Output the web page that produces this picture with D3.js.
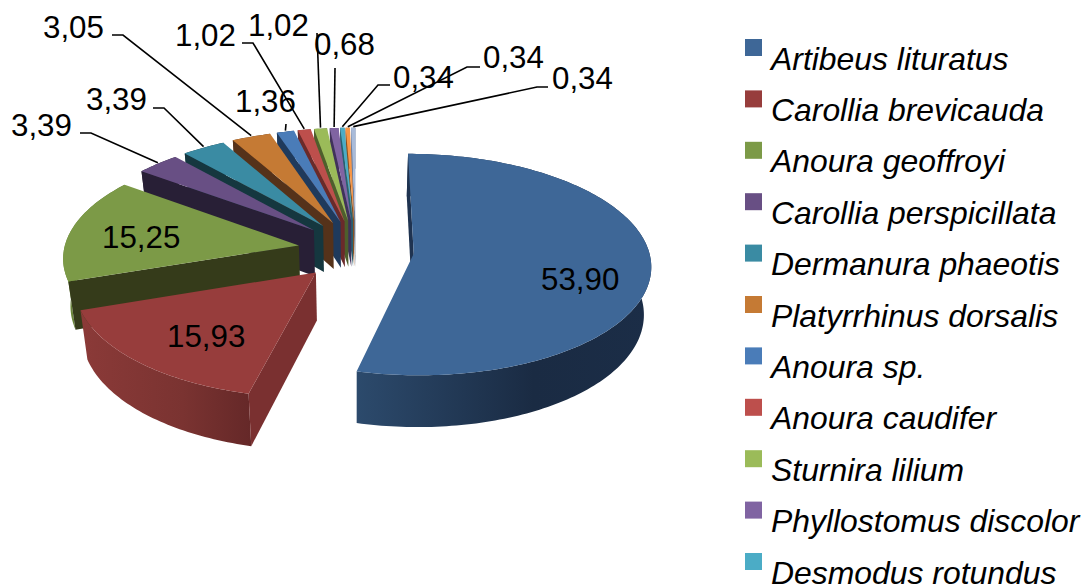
<!DOCTYPE html>
<html>
<head>
<meta charset="utf-8">
<title>Frugivorous and nectarivorous bat species</title>
<script src="https://cdn.jsdelivr.net/npm/d3@7"></script>
<style>
html, body { margin: 0; padding: 0; background: #fff; overflow: hidden; }
svg { display: block; }
text { font-family: "Liberation Sans", Arial, sans-serif; fill: #000; }
</style>
</head>
<body>
<svg id="chart" width="1088" height="588"></svg>
<script>
// Species share of captures, in pie order (clockwise from twelve o'clock)
const values = [53.90, 15.93, 15.25, 3.39, 3.39, 3.05, 1.36, 1.02, 1.02, 0.68, 0.34, 0.34, 0.34];
const valueLabels = ["53,90", "15,93", "15,25", "3,39", "3,39", "3,05", "1,36", "1,02", "1,02", "0,68", "0,34", "0,34", "0,34"];
const legendNames = [
  "Artibeus lituratus", "Carollia brevicauda", "Anoura geoffroyi", "Carollia perspicillata",
  "Dermanura phaeotis", "Platyrrhinus dorsalis", "Anoura sp.", "Anoura caudifer",
  "Sturnira lilium", "Phyllostomus discolor", "Desmodus rotundus"
];
const faceColors = ["#3e6797", "#973d3c", "#7c9a47", "#684f84", "#3a8ba3", "#c57a34", "#4a7cb8", "#bd4f4c", "#9bbb59", "#8064a2", "#4bacc6", "#f79646", "#a9bbd9"];
const sideColors = ["#1f3350", "#7a3030", "#353b1a", "#281f36", "#15373f", "#55321a", "#1f3a5c", "#6a2a2a", "#4e5f2c", "#40325a", "#286070", "#8a5020", "#6f7f9c"];
const rimStops = [
  ["#2c4a6c", "#1a2b43", "#1b2d47"], ["#8b3a38", "#7a3331", "#652828"], ["#6d8a3b", "#5f7a33", "#4e6329"],
  ["#281f36", "#281f36", "#281f36"], ["#15373f", "#15373f", "#15373f"], ["#55321a", "#55321a", "#55321a"],
  ["#1f3a5c", "#1f3a5c", "#1f3a5c"], ["#6a2a2a", "#6a2a2a", "#6a2a2a"], ["#4e5f2c", "#4e5f2c", "#4e5f2c"],
  ["#40325a", "#40325a", "#40325a"], ["#286070", "#286070", "#286070"], ["#8a5020", "#8a5020", "#8a5020"],
  ["#6f7f9c", "#6f7f9c", "#6f7f9c"]
];

// Label placement: text start, baseline, and the elbow of the leader line (outer end, bend)
const labelPlacement = [
  { x: 541, y: 290 },
  { x: 167, y: 347 },
  { x: 102, y: 248 },
  { x: 11, y: 135.5, line: [[80, 133], [91, 133]] },
  { x: 86, y: 109.5, line: [[153, 108], [164, 108]] },
  { x: 43, y: 37.5, line: [[112, 35], [123, 35]] },
  { x: 235, y: 111.5, line: [[286, 124]] },
  { x: 175, y: 45.5, line: [[242, 43], [253, 43]] },
  { x: 248, y: 35.5, line: [[317, 33]] },
  { x: 314, y: 55, line: [[335, 68]] },
  { x: 393, y: 88, line: [[390, 85], [378, 85]] },
  { x: 483, y: 68, line: [[480, 67], [467, 67]] },
  { x: 552, y: 89, line: [[548, 87], [537, 87]] }
];

// Projection of the tilted disc: points nearer the viewer are drawn larger
const centerX = 356, centerY = 250;
const radiusX = 235, radiusY = 110;
const explodeX = 58, explodeY = 30;
const perspective = 0.0009, depth = 47, floorScale = 0.975;

function project(X, Y, floor) {
  const s = 1 + perspective * Y;
  return [
    centerX + X * s * (floor ? floorScale : 1),
    centerY + Y * s + (floor ? depth * s : 0)
  ];
}

const slices = d3.pie().sort(null).value(d => d)(values).map((d, i) => {
  const mid = (d.startAngle + d.endAngle) / 2;
  return {
    index: i,
    a0: d.startAngle,
    a1: d.endAngle,
    ox: explodeX * Math.sin(mid),
    oy: -explodeY * Math.cos(mid)
  };
});

function rimPoint(sl, a, floor) {
  return project(sl.ox + radiusX * Math.sin(a), sl.oy - radiusY * Math.cos(a), floor);
}

function apex(sl, floor) {
  return project(sl.ox, sl.oy, floor);
}

function arcAngles(sl) {
  const n = Math.max(2, Math.ceil((sl.a1 - sl.a0) / 0.02));
  return d3.range(n + 1).map(k => sl.a0 + (sl.a1 - sl.a0) * k / n);
}

const svg = d3.select("#chart");
const line = d3.line();
const closed = pts => line(pts) + "Z";

const defs = svg.append("defs");
slices.forEach(sl => {
  const g = defs.append("linearGradient").attr("id", "rim" + sl.index);
  rimStops[sl.index].forEach((c, k) => {
    g.append("stop").attr("offset", k === 1 ? 0.6 : k / 2).attr("stop-color", c);
  });
});

// Painted back to front, so each slice covers the wall of the one behind it
const pieLayer = svg.append("g");
slices.slice().reverse().forEach(sl => {
  const g = pieLayer.append("g");
  const angles = arcAngles(sl);
  g.append("path")
    .attr("d", closed(angles.map(a => rimPoint(sl, a, false))
      .concat(angles.slice().reverse().map(a => rimPoint(sl, a, true)))))
    .attr("fill", `url(#rim${sl.index})`);
  g.append("path")
    .attr("d", closed([apex(sl, false), rimPoint(sl, sl.a0, false), rimPoint(sl, sl.a0, true), apex(sl, true)]))
    .attr("fill", sideColors[sl.index]);
  g.append("path")
    .attr("d", closed([apex(sl, false)].concat(angles.map(a => rimPoint(sl, a, false)))))
    .attr("fill", faceColors[sl.index]);
});

// Leader lines run from the label elbow to the rim at the middle of the slice
const labelLayer = svg.append("g");
slices.forEach(sl => {
  const place = labelPlacement[sl.index];
  if (!place.line) return;
  const mid = (sl.a0 + sl.a1) / 2;
  const end = rimPoint(sl, mid, false);
  labelLayer.append("path")
    .attr("d", line(place.line.concat([[end[0], end[1] - 1]])))
    .attr("fill", "none")
    .attr("stroke", "#000")
    .attr("stroke-width", 1.6);
});

labelLayer.selectAll("text").data(valueLabels).join("text")
  .attr("x", (d, i) => labelPlacement[i].x)
  .attr("y", (d, i) => labelPlacement[i].y)
  .attr("font-size", 31.3)
  .text(d => d);

// Legend column, cut off by the bottom of the frame as the list runs long
const legendY = d3.scalePoint().domain(legendNames).range([39, 553]);
const legend = svg.append("g");
legend.selectAll("rect").data(legendNames).join("rect")
  .attr("x", 745)
  .attr("y", d => legendY(d))
  .attr("width", 17)
  .attr("height", 17)
  .attr("fill", (d, i) => faceColors[i]);
legend.selectAll("text").data(legendNames).join("text")
  .attr("x", 771)
  .attr("y", d => legendY(d) + 30.5)
  .attr("font-size", 31.9)
  .attr("font-style", "italic")
  .text(d => d);
</script>
</body>
</html>
